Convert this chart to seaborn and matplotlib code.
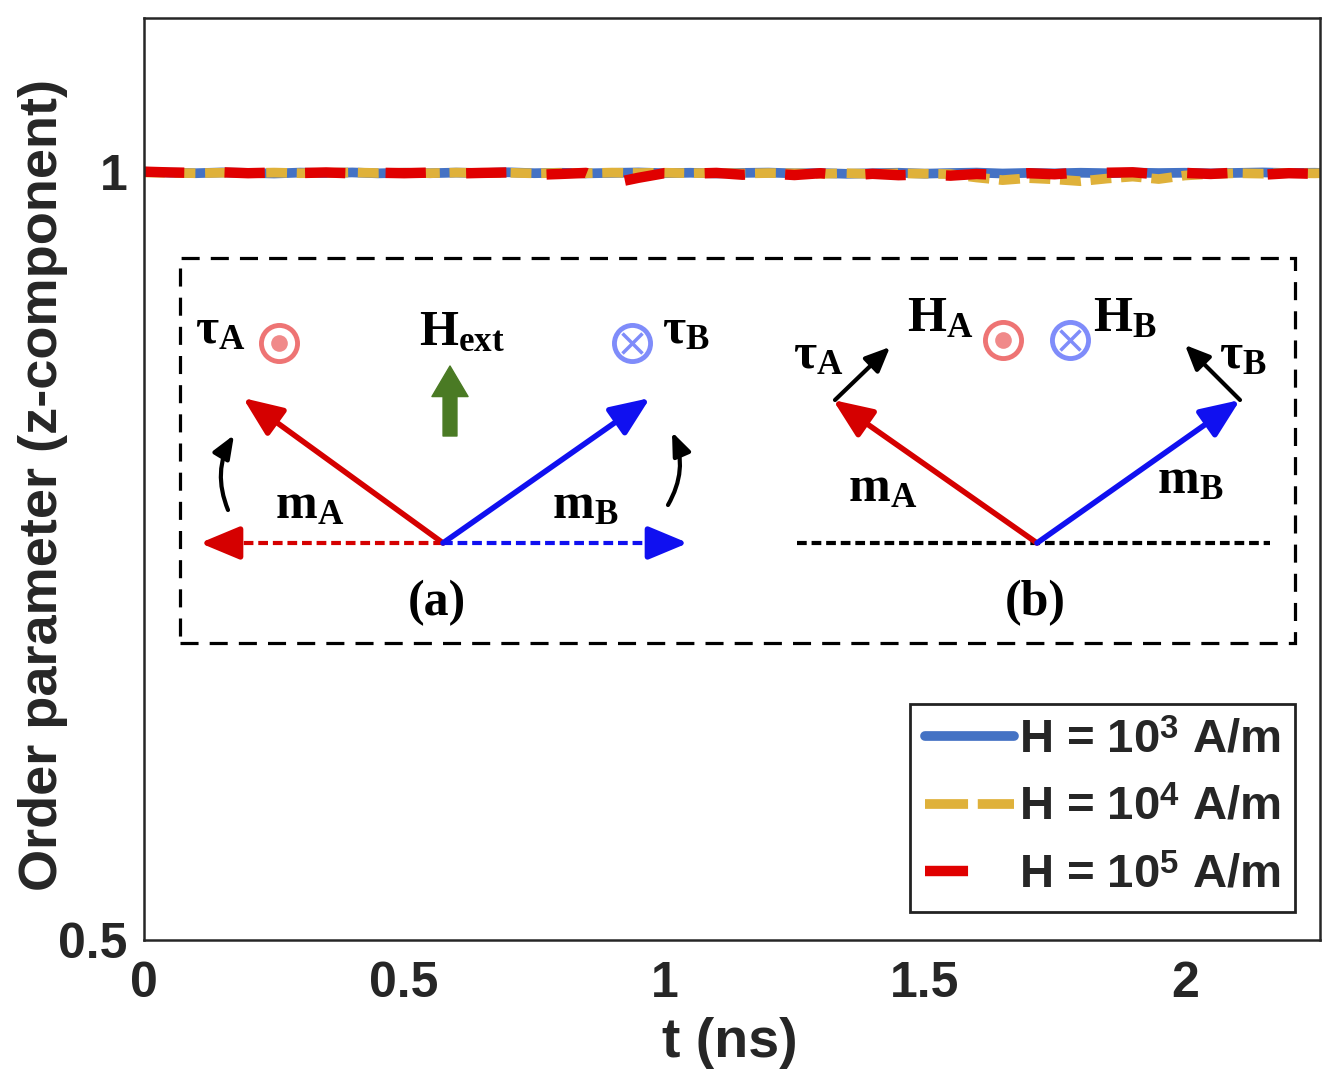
import pandas as pd
import matplotlib
matplotlib.use('Agg')
import matplotlib.pyplot as plt
from matplotlib.patches import Rectangle
import seaborn as sns

# time axis (ns) and z-component of the order parameter for three field strengths
t_ns = [0.00, 0.05, 0.10, 0.15, 0.20, 0.25, 0.30, 0.35, 0.40, 0.45,
        0.50, 0.55, 0.60, 0.65, 0.70, 0.75, 0.80, 0.85, 0.90, 0.95,
        1.00, 1.05, 1.10, 1.15, 1.20, 1.25, 1.30, 1.35, 1.40, 1.45,
        1.50, 1.55, 1.60, 1.65, 1.70, 1.75, 1.80, 1.85, 1.90, 1.95,
        2.00, 2.05, 2.10, 2.15, 2.20, 2.25, 2.26]
op_h1e3 = [1.0000, 0.9994, 0.9990, 0.9995, 0.9992, 0.9988, 0.9994, 0.9991, 0.9995, 0.9989,
           0.9993, 0.9990, 0.9994, 0.9991, 0.9996, 0.9990, 0.9993, 0.9989, 0.9992, 0.9995,
           0.9990, 0.9993, 0.9988, 0.9992, 0.9994, 0.9989, 0.9991, 0.9986, 0.9990, 0.9993,
           0.9987, 0.9991, 0.9994, 0.9988, 0.9992, 0.9989, 0.9993, 0.9990, 0.9994, 0.9991,
           0.9993, 0.9989, 0.9992, 0.9995, 0.9991, 0.9993, 0.9992]
op_h1e4 = [0.9995, 0.9992, 0.9990, 0.9993, 0.9991, 0.9994, 0.9990, 0.9992, 0.9995, 0.9991,
           0.9993, 0.9990, 0.9994, 0.9991, 0.9993, 0.9989, 0.9992, 0.9990, 0.9994, 0.9991,
           0.9993, 0.9990, 0.9992, 0.9988, 0.9991, 0.9989, 0.9986, 0.9990, 0.9985, 0.9989,
           0.9987, 0.9984, 0.9962, 0.9945, 0.9958, 0.9950, 0.9938, 0.9955, 0.9968, 0.9952,
           0.9975, 0.9985, 0.9990, 0.9987, 0.9991, 0.9989, 0.9990]
op_h1e5 = [1.0000, 0.9995, 0.9992, 0.9996, 0.9990, 0.9994, 0.9991, 0.9995, 0.9989, 0.9993,
           0.9990, 0.9994, 0.9988, 0.9992, 0.9995, 0.9979, 0.9985, 0.9992, 0.9925, 0.9960,
           0.9990, 0.9987, 0.9992, 0.9980, 0.9988, 0.9978, 0.9990, 0.9975, 0.9986, 0.9977,
           0.9982, 0.9974, 0.9985, 0.9978, 0.9990, 0.9983, 0.9995, 0.9993, 0.9996, 0.9982,
           0.9992, 0.9985, 0.9994, 0.9980, 0.9990, 0.9986, 0.9985]
series_labels = [r'H = 10$^{\mathsf{3}}$ A/m', r'H = 10$^{\mathsf{4}}$ A/m', r'H = 10$^{\mathsf{5}}$ A/m']
x_ticks = [0, 0.5, 1, 1.5, 2]
x_tick_labels = ['0', '0.5', '1', '1.5', '2']
y_ticks = [0.5, 1]
y_tick_labels = ['0.5', '1']

sns.set_style('white')
plt.rcParams['font.family'] = ['Liberation Sans', 'DejaVu Sans']
plt.rcParams['font.weight'] = 'bold'
plt.rcParams['mathtext.fontset'] = 'custom'
plt.rcParams['mathtext.rm'] = 'Liberation Serif:bold'
plt.rcParams['mathtext.it'] = 'Liberation Serif:bold'
plt.rcParams['mathtext.bf'] = 'Liberation Serif:bold'
plt.rcParams['mathtext.sf'] = 'Liberation Sans:bold'
plt.rcParams['lines.scale_dashes'] = False

fig = plt.figure(figsize=(13.4, 10.78), dpi=100)
ax = fig.add_axes([144 / 1340, 1 - 940 / 1078, 1176 / 1340, 922 / 1078])

df = pd.DataFrame({'t': t_ns, 'h3': op_h1e3, 'h4': op_h1e4, 'h5': op_h1e5})
sns.lineplot(x='t', y='h3', data=df, ax=ax, color='#4472C4', lw=7, label=series_labels[0])
sns.lineplot(x='t', y='h4', data=df, ax=ax, color='#DFB13A', lw=7, ls=(0, (15, 7)), label=series_labels[1])
sns.lineplot(x='t', y='h5', data=df, ax=ax, color='#E00000', lw=7.5, ls=(0, (29, 29)), label=series_labels[2])

ax.set_xlim(0, 2.26)
ax.set_ylim(0.5, 1.1)
ax.set_xticks(x_ticks)
ax.set_xticklabels(x_tick_labels)
ax.set_yticks(y_ticks)
ax.set_yticklabels(y_tick_labels)
ax.tick_params(direction='in', length=5, width=1.2, labelsize=36, colors='#262626')
ax.tick_params(axis='x', pad=15)
ax.tick_params(axis='y', pad=12)
for lab in ax.get_xticklabels() + ax.get_yticklabels():
    lab.set_fontweight('bold')
for sp in ax.spines.values():
    sp.set_color('#262626')
    sp.set_linewidth(1.8)
ax.set_xlabel('t (ns)', fontsize=40, fontweight='bold')
ax.set_ylabel('Order parameter (z-component)', fontsize=39, fontweight='bold')
ax.xaxis.set_label_coords((730 - 144) / 1176, (940 - 1043) / 922)
ax.xaxis.label.set_va('center')
ax.yaxis.set_label_coords((43 - 144) / 1176, (940 - 485) / 922)
ax.yaxis.label.set_va('center')

leg = ax.legend(loc='lower right', bbox_to_anchor=((1295 - 144) / 1176, (940 - 912) / 922),
                frameon=True, fancybox=False, framealpha=1, edgecolor='#222222', fontsize=34,
                handlelength=1.9, handletextpad=0.1, borderpad=0.3, labelspacing=0.5, borderaxespad=0)
leg.get_frame().set_linewidth(2)
leg.get_lines()[1].set_linestyle((0, (31, 7)))
leg.get_lines()[2].set_linestyle((0, (31, 40)))


# ---- inset sketch (positions in reference pixels, mapped to axes fraction)
def P(px, py):
    return ((px - 144) / 1176, (940 - py) / 922)


tr = ax.transAxes
x0, y0 = P(180, 643)
x1, y1 = P(1295, 258)
ax.add_patch(Rectangle((x0, y0), x1 - x0, y1 - y0, transform=tr, fill=False,
                       ec='black', lw=2.3, ls=(0, (13, 8))))

RED = '#D50000'
BLUE = '#1010F0'
GREEN = '#4A7A24'
PINK = '#EE7474'
LBLUE = '#7F8CFA'
txt = dict(transform=tr, ha='center', va='center', fontsize=36, color='black')


def arrow(a, b, color, lw=4, hl=0.6, hw=0.25, ms=40, cs='arc3'):
    ax.annotate('', xy=P(*b), xytext=P(*a), xycoords='axes fraction', textcoords='axes fraction',
                arrowprops=dict(arrowstyle='-|>,head_length=%s,head_width=%s' % (hl, hw), color=color,
                                lw=lw, mutation_scale=ms, shrinkA=0, shrinkB=0, connectionstyle=cs))


def dashed(a, b, color):
    xa, ya = P(*a)
    xb, yb = P(*b)
    ax.plot([xa, xb], [ya, yb], transform=tr, color=color, lw=3, ls=(0, (7, 3.5)))


def dot_sym(px, py, color):
    x, y = P(px, py)
    ax.plot(x, y, 'o', transform=tr, ms=26, mfc='none', mec=color, mew=3.5)
    ax.plot(x, y, 'o', transform=tr, ms=12, mfc=color, mec='none', alpha=0.85)


def cross_sym(px, py, color):
    x, y = P(px, py)
    ax.plot(x, y, 'o', transform=tr, ms=26, mfc='none', mec=color, mew=3.5)
    ax.plot(x, y, 'x', transform=tr, ms=15, mec=color, mew=2.5)


# panel (a)
dashed((443, 543), (225, 543), RED)
arrow((235, 543), (200, 543), RED)
dashed((443, 543), (660, 543), BLUE)
arrow((650, 543), (688, 543), BLUE)
arrow((443, 543), (243, 398), RED)
arrow((443, 543), (650, 398), BLUE)
arrow((228, 510), (234, 435), 'black', lw=3, hl=0.5, hw=0.2, ms=28, cs='arc3,rad=-0.25')
arrow((668, 505), (672, 432), 'black', lw=3, hl=0.5, hw=0.2, ms=28, cs='arc3,rad=0.25')
ax.annotate('', xy=P(450, 366), xytext=P(450, 436), xycoords='axes fraction', textcoords='axes fraction',
            arrowprops=dict(arrowstyle='simple,head_width=1.3,head_length=1.1,tail_width=0.5',
                            color=GREEN, mutation_scale=20, shrinkA=0, shrinkB=0))
dot_sym(279, 343, PINK)
cross_sym(632, 343, LBLUE)
ax.text(*P(220, 330), r'$\tau_\mathrm{A}$', **txt)
ax.text(*P(462, 332), r'$\mathrm{H_{ext}}$', **txt)
ax.text(*P(686, 330), r'$\tau_\mathrm{B}$', **txt)
ax.text(*P(310, 505), r'$\mathrm{m_A}$', **txt)
ax.text(*P(585, 505), r'$\mathrm{m_B}$', **txt)
ax.text(*P(437, 603), '(a)', family='Liberation Serif', fontweight='bold', **txt)

# panel (b)
dashed((797, 543), (1270, 543), 'black')
arrow((1037, 543), (833, 400), RED)
arrow((1037, 543), (1240, 400), BLUE)
arrow((835, 400), (890, 347), 'black', lw=3, hl=0.5, hw=0.22, ms=30)
arrow((1240, 400), (1185, 345), 'black', lw=3, hl=0.5, hw=0.22, ms=30)
dot_sym(1003, 340, PINK)
cross_sym(1070, 340, LBLUE)
ax.text(*P(818, 355), r'$\tau_\mathrm{A}$', **txt)
ax.text(*P(940, 318), r'$\mathrm{H_A}$', **txt)
ax.text(*P(1125, 318), r'$\mathrm{H_B}$', **txt)
ax.text(*P(1243, 355), r'$\tau_\mathrm{B}$', **txt)
ax.text(*P(883, 488), r'$\mathrm{m_A}$', **txt)
ax.text(*P(1190, 480), r'$\mathrm{m_B}$', **txt)
ax.text(*P(1035, 603), '(b)', family='Liberation Serif', fontweight='bold', **txt)

fig.savefig('out.png', dpi=100)
